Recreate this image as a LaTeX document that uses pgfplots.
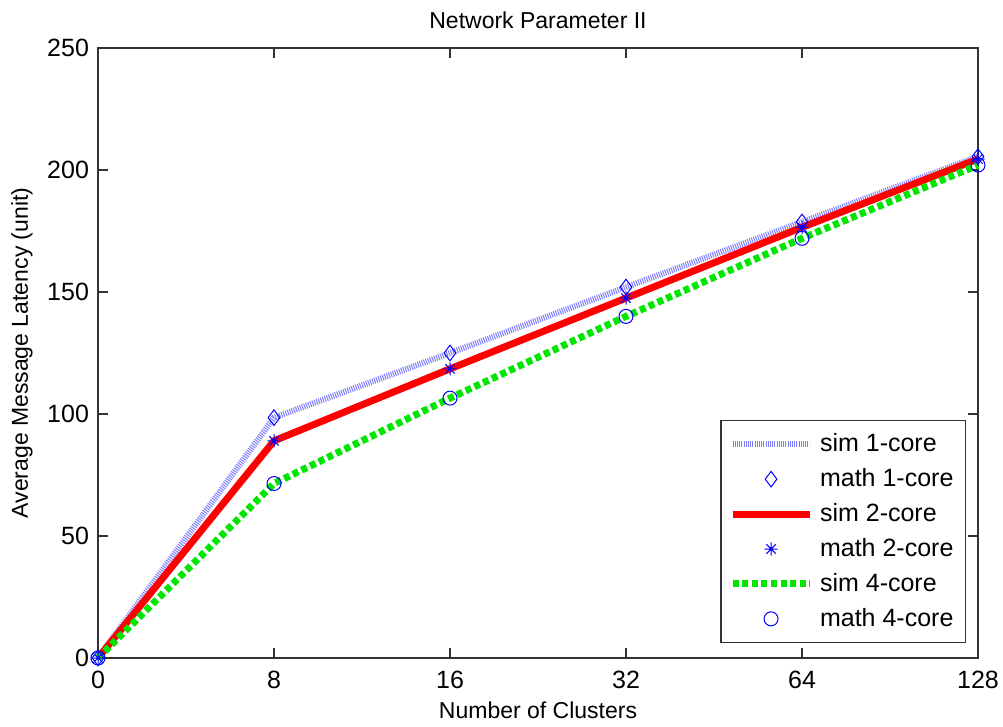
\documentclass[border=0pt]{standalone}
\usepackage{pgfplots}
\pgfplotsset{compat=1.18}
\usepackage{fontspec}
\setmainfont{Liberation Sans}
\definecolor{hatchblue}{RGB}{125,125,255}
\definecolor{mgreen}{RGB}{0,230,0}
\pgfdeclareplotmark{mstar}{%
  \pgfpathmoveto{\pgfqpoint{-\pgfplotmarksize}{0pt}}\pgfpathlineto{\pgfqpoint{\pgfplotmarksize}{0pt}}%
  \pgfpathmoveto{\pgfqpoint{0pt}{-\pgfplotmarksize}}\pgfpathlineto{\pgfqpoint{0pt}{\pgfplotmarksize}}%
  \pgfpathmoveto{\pgfqpoint{-.707\pgfplotmarksize}{-.707\pgfplotmarksize}}\pgfpathlineto{\pgfqpoint{.707\pgfplotmarksize}{.707\pgfplotmarksize}}%
  \pgfpathmoveto{\pgfqpoint{-.707\pgfplotmarksize}{.707\pgfplotmarksize}}\pgfpathlineto{\pgfqpoint{.707\pgfplotmarksize}{-.707\pgfplotmarksize}}%
  \pgfusepathqstroke}
\pgfplotsset{
  lineleg/.style={legend image code/.code={\draw[##1] (0pt,0pt) -- (38.5pt,0pt);}},
  markleg/.style={legend image code/.code={\path[##1] plot coordinates {(19.25pt,0pt)};}},
}
\begin{document}
\begin{tikzpicture}
\begin{axis}[
  name=ax,
  scale only axis,
  width=440pt, height=305pt,
  xmin=0, xmax=5, ymin=0, ymax=250,
  xtick={0,1,2,3,4,5},
  xticklabels={0,8,16,32,64,128},
  ytick={0,50,100,150,200,250},
  tick align=inside,
  major tick length=5pt,
  axis line style={black!80, line width=0.6pt},
  every tick/.style={black!80, line width=0.6pt},
  ticklabel style={font=\fontsize{12.5}{14}\selectfont},
  xticklabel style={yshift=-3pt},
  yticklabel style={xshift=-1pt},
  /pgf/number format/assume math mode=true,
  xlabel={Number of Clusters},
  ylabel={Average Message Latency (unit)},
  label style={font=\fontsize{11.5}{13}\selectfont},
  xlabel style={at={(axis description cs:0.5,-0.0852)}, anchor=center},
  ylabel style={at={(axis description cs:-0.0864,0.5)}, anchor=center},
  clip=false,
  legend style={at={(rel axis cs:0.9864,0.0246)}, anchor=south east,
    font=\fontsize{12.5}{14}\selectfont, draw=black!80, line width=0.6pt,
    row sep=2.9pt, inner xsep=4pt, inner ysep=4.5pt,
    nodes={inner sep=2pt},
    /tikz/every odd column/.append style={column sep=1.5pt}},
  legend cell align=left,
]
\addplot[hatchblue, line width=3pt, dash pattern=on 0.5pt off 0.6pt, lineleg] coordinates {(0,0) (1,98.5) (2,125) (3,152) (4,178.7) (5,205.5)};
\addlegendentry{sim 1-core}
\addplot[only marks, blue, mark=diamond, mark size=3.9pt, mark options={line width=0.5pt}, markleg] coordinates {(0,0) (1,98.5) (2,125) (3,152) (4,178.7) (5,205.5)};
\addlegendentry{math 1-core}
\addplot[red, line width=3.5pt, lineleg] coordinates {(0,0) (1,89) (2,118.5) (3,147.5) (4,176.5) (5,204.5)};
\addlegendentry{sim 2-core}
\addplot[only marks, blue, mark=mstar, mark size=3.3pt, mark options={line width=0.5pt}, markleg] coordinates {(0,0) (1,89) (2,118.5) (3,147.5) (4,176.5) (5,204.5)};
\addlegendentry{math 2-core}
\addplot[mgreen, line width=3.5pt, dash pattern=on 3pt off 1.8pt, lineleg] coordinates {(0,0) (1,71.5) (2,106.5) (3,140) (4,172) (5,202)};
\addlegendentry{sim 4-core}
\addplot[only marks, blue, mark=o, mark size=3.5pt, mark options={line width=0.5pt}, markleg] coordinates {(0,0) (1,71.5) (2,106.5) (3,140) (4,172) (5,202)};
\addlegendentry{math 4-core}
\node[font=\fontsize{11.5}{13}\selectfont, anchor=center] at (axis description cs:0.5,1.0459) {Network Parameter II};
\end{axis}
\pgfresetboundingbox
\path ([xshift=-49pt,yshift=-34pt]ax.south west) rectangle ([xshift=12.5pt,yshift=24pt]ax.north east);
\end{tikzpicture}
\end{document}
